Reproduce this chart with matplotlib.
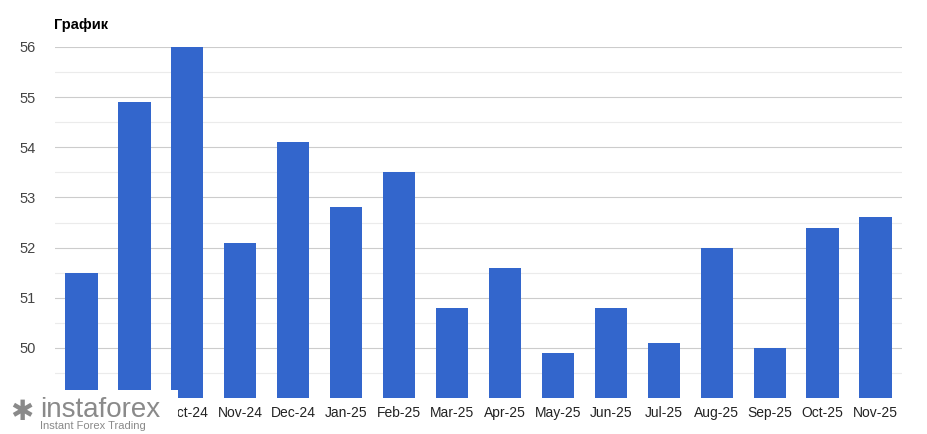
import matplotlib
matplotlib.use("Agg")
import matplotlib.pyplot as plt
import numpy as np

plt.rcParams['font.family'] = ['Liberation Sans', 'DejaVu Sans']

categories = ["Aug-24","Sep-24","Oct-24","Nov-24","Dec-24","Jan-25","Feb-25","Mar-25",
              "Apr-25","May-25","Jun-25","Jul-25","Aug-25","Sep-25","Oct-25","Nov-25"]
values = [51.5, 54.9, 56.0, 52.1, 54.1, 52.8, 53.5, 50.8, 51.6, 49.9, 50.8, 50.1, 52.0, 50.0, 52.4, 52.6]
yticks = [50, 51, 52, 53, 54, 55, 56]

fig = plt.figure(figsize=(9.27, 4.34), dpi=100)
ax = fig.add_axes([55/927, 1-398/434, (902-55)/927, (398-47)/434])
x = np.arange(len(categories))
ax.bar(x, values, width=0.61, color="#3366cc", bottom=0)
ax.set_ylim(49, 56)
ax.set_xlim(-0.5, len(categories)-0.5)
for v in np.arange(49.5, 56.01, 0.5):
    major = abs(v - round(v)) < 1e-9
    ax.axhline(v, color="#cccccc" if major else "#ebebeb", lw=0.8, zorder=0)
ax.set_yticks(yticks)
ax.set_yticklabels([str(t) for t in yticks], fontsize=10.5, color="#444444")
ax.set_xticks(x)
ax.set_xticklabels(categories, fontsize=10, color="#222222")
ax.tick_params(length=0, pad=6)
ax.tick_params(axis="y", pad=14)
for s in ax.spines.values():
    s.set_visible(False)
ax.set_axisbelow(True)
fig.text(54/927, 1-25/434, "График", fontsize=10.5, fontweight="bold", va="center")
fig.patches.append(plt.Rectangle((0, 0), 178/927, 44/434, transform=fig.transFigure,
                                 facecolor="white", edgecolor="none", zorder=5))
fig.text(40/927, 1-410/434, "instaforex", fontsize=20, color="#8a8a8a", va="center", zorder=6)
fig.text(40/927, 1-426/434, "Instant Forex Trading", fontsize=8, color="#8a8a8a", va="center", zorder=6)
fig.text(10/927, 1-412/434, "✱", fontsize=20, color="#8a8a8a", va="center", zorder=6,
         family=['DejaVu Sans'])
fig.savefig("out.png", dpi=100)
